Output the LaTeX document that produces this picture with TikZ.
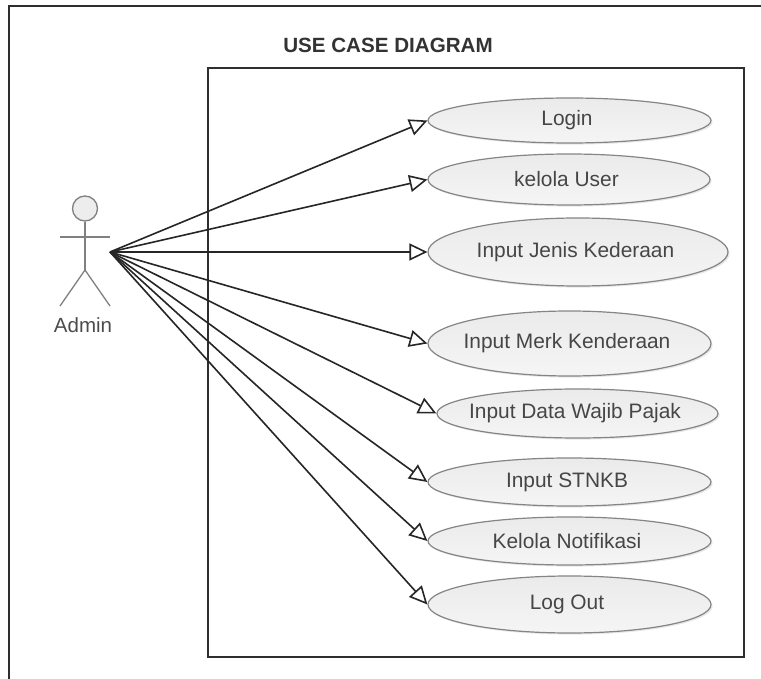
\documentclass[tikz,border=0pt]{standalone}
\usepackage{fontspec}
\setmainfont{Liberation Sans}
\usetikzlibrary{shapes.geometric,arrows.meta,shadows}
\definecolor{framec}{HTML}{2E2E2E}
\definecolor{edgec}{HTML}{858585}
\definecolor{textc}{HTML}{464646}
\newcommand{\uctext}[1]{\makebox[0pt]{#1\hspace{5pt}}}
\tikzset{
  frame/.style={draw=framec,line width=1.6pt},
  usecase/.style={ellipse,draw=edgec,line width=1.2pt,inner sep=0pt,
    top color=white!92!black,bottom color=white!96!black,
    font=\fontsize{20.9pt}{24pt}\selectfont,text=textc,
    drop shadow={opacity=.18,shadow xshift=1.6pt,shadow yshift=-1.6pt}},
  assoc/.style={draw=black!85,line width=1.6pt,
    -{Triangle[open,length=18pt,width=17pt,line width=1.6pt]},shorten >=0pt},
  limb/.style={draw=black!50,line width=1.3pt},
}
\begin{document}
\begin{tikzpicture}[x=1pt,y=-1pt]
\useasboundingbox[fill=white] (0,0) rectangle (761,679);
% outer page frame (open to the right and bottom)
\draw[frame] (9,679) -- (9,6) -- (761,6);
% system boundary
\node[frame,rectangle,inner sep=0pt,minimum width=536pt,minimum height=589pt] (system) at (476,362.5) {};
\node[font=\bfseries\fontsize{20.6pt}{24pt}\selectfont,text=black!80,inner sep=0pt] (title) at (388,45) {USE CASE DIAGRAM};
% use cases
\node[usecase,minimum width=283pt,minimum height=45pt] (login) at (569.5,120.5) {\uctext{Login}};
\node[usecase,minimum width=282pt,minimum height=51pt] (user) at (569,179.5) {\uctext{kelola User}};
\node[usecase,minimum width=300pt,minimum height=68pt] (jenis) at (578,252) {\uctext{Input Jenis Kederaan}};
\node[usecase,minimum width=283pt,minimum height=65pt] (merk) at (569.5,343.5) {\uctext{Input Merk Kenderaan}};
\node[usecase,minimum width=281pt,minimum height=49pt] (wajib) at (577.5,413.5) {\uctext{Input Data Wajib Pajak}};
\node[usecase,minimum width=283pt,minimum height=48pt] (stnkb) at (569.5,482) {\uctext{Input STNKB}};
\node[usecase,minimum width=283pt,minimum height=48pt] (notif) at (569.5,541) {\uctext{Kelola Notifikasi}};
\node[usecase,minimum width=283pt,minimum height=57pt] (logout) at (569.5,604.5) {\uctext{Log Out}};
% actor
\node[circle,draw=black!50,line width=1.3pt,fill=black!7,minimum size=25pt,inner sep=0pt] (head) at (85,208.5) {};
\coordinate (handL) at (60,237);
\coordinate (handR) at (110,237);
\coordinate (hip) at (85,270);
\coordinate (footL) at (60,306);
\coordinate (footR) at (110,306);
\draw[limb] (head.south) -- (hip);
\draw[limb] (handL) -- (handR);
\draw[limb] (footL) -- (hip) -- (footR);
\node[font=\fontsize{20.5pt}{24pt}\selectfont,text=black!70,inner sep=0pt] (admin) at (83,325) {Admin};
\coordinate (hub) at (110,252);
% associations
\foreach \uc in {login,user,jenis,merk,wajib,stnkb,notif,logout}
  \draw[assoc] (hub) -- (\uc.west);
\end{tikzpicture}
\end{document}
